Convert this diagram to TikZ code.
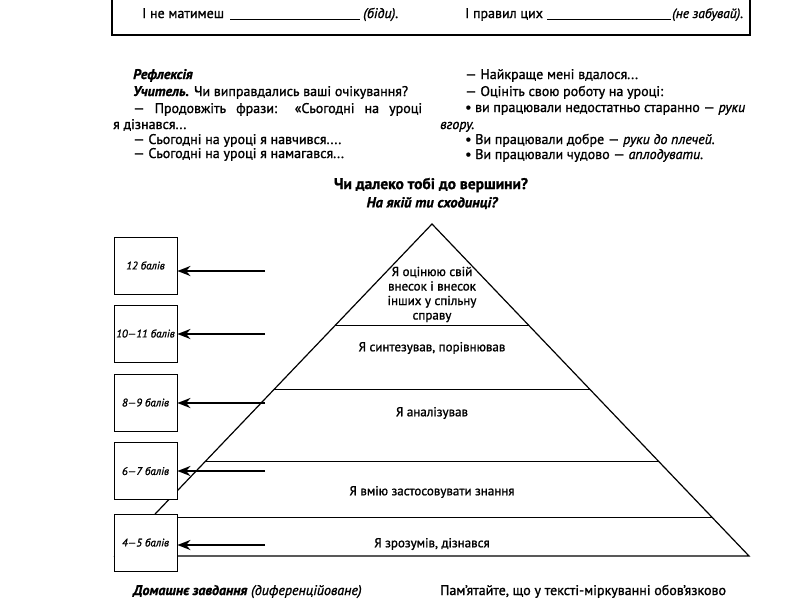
\documentclass[tikz,border=0pt]{standalone}
\usepackage{fontspec}
\setmainfont{PT Sans}[FakeBold=1.2]
\usetikzlibrary{arrows.meta,calc}
\begin{document}
\begin{tikzpicture}[x=1pt,y=-1pt,
  body/.style={anchor=base west,inner sep=0pt,font=\fontsize{14}{16}\selectfont},
  ctext/.style={anchor=center,inner sep=0pt,align=center,font=\fontsize{13}{14.5}\selectfont},
  ttl/.style={anchor=center,inner sep=0pt,font=\bfseries\fontsize{15.5}{17}\selectfont},
  subttl/.style={anchor=center,inner sep=0pt,font=\bfseries\itshape\fontsize{14.5}{17}\selectfont},
  scorebox/.style={draw,line width=0.8pt,fill=white,minimum width=63pt,minimum height=57pt,inner sep=0.5pt,font=\itshape\fontsize{11}{13}\selectfont},
  pyr/.style={line width=1.2pt},
  level/.style={line width=1pt},
  arr/.style={line width=2.4pt,-{Stealth[length=13pt,width=10pt]}},
  blank/.style={line width=0.6pt}
]
\useasboundingbox (0,0) rectangle (800,600);
\fill[white] (0,0) rectangle (800,600);
\clip (0,0) rectangle (800,600);

% top box (partly cut)
\draw[line width=1.5pt] (112,-10) -- (112,35) -- (750,35) -- (750,-10);
\node[body] (t1) at (142,18) {І не матимеш};
\coordinate (u1a) at (230,19); \coordinate (u1b) at (360,19);
\draw[blank] (u1a) -- (u1b);
\node[body] (t2) at (363,18) {\itshape (біди).};
\node[body] (t3) at (465,18) {І правил цих};
\coordinate (u2a) at (547,19); \coordinate (u2b) at (671,19);
\draw[blank] (u2a) -- (u2b);
\node[body,font=\fontsize{13.5}{16}\selectfont] (t4) at (672,18) {\itshape (не забувай).};

% reflection, left column
\node[body] (r1) at (133,79) {\textbf{\textit{Рефлексія}}};
\node[body] (r2) at (133,96) {\textbf{\textit{Учитель.}} Чи виправдались ваші очікування?};
\node[body] (r3) at (133,113) {\makebox[289pt][s]{— Продовжіть фрази: «Сьогодні на уроці}};
\node[body] (r4) at (113,129) {я дізнався...};
\node[body] (r5) at (133,144) {— Сьогодні на уроці я навчився....};
\node[body] (r6) at (133,158) {— Сьогодні на уроці я намагався...};

% right column
\node[body] (s1) at (465,79) {— Найкраще мені вдалося...};
\node[body] (s2) at (465,96) {— Оцініть свою роботу на уроці:};
\node[body] (s3) at (465,112) {\makebox[280pt][s]{• ви працювали недостатньо старанно — \textit{руки}}};
\node[body] (s4) at (440,129) {\textit{вгору.}};
\node[body] (s5) at (465,144) {• Ви працювали добре — \textit{руки до плечей.}};
\node[body] (s6) at (465,159) {• Ви працювали чудово — \textit{аплодувати.}};

% title
\node[ttl] (h1) at (431,185) {Чи далеко тобі до вершини?};
\node[subttl] (h2) at (432,203) {На якій ти сходинці?};

% pyramid
\coordinate (apex) at (432,224);
\coordinate (bl) at (115,556);
\coordinate (br) at (749,556);
\draw[pyr] (bl) -- (apex) -- (br) -- cycle;
\foreach \t in {0.3072,0.497,0.7139,0.8825}{
  \draw[level] ($(apex)!\t!(bl)$) -- ($(apex)!\t!(br)$);
}
\node[ctext] (p1) at (432,294.5) {Я оцінюю свій\\внесок і внесок\\інших у спільну\\справу};
\node[ctext] (p2) at (432,348) {Я синтезував, порівнював};
\node[ctext] (p3) at (432,413) {Я аналізував};
\node[ctext] (p4) at (432,492) {Я вмію застосовувати знання};
\node[ctext] (p5) at (432,544) {Я зрозумів, дізнався};

% score boxes
\node[scorebox] (b1) at (145.5,265.5) {12 балів};
\node[scorebox] (b2) at (145.5,333.5) {10—11 балів};
\node[scorebox] (b3) at (145.5,402.5) {8—9 балів};
\node[scorebox] (b4) at (145.5,471) {6—7 балів};
\node[scorebox] (b5) at (145.5,542.5) {4—5 балів};

% arrows
\coordinate (a1) at (265,271);
\coordinate (a2) at (265,334);
\coordinate (a3) at (265,403);
\coordinate (a4) at (265,471);
\coordinate (a5) at (265,545);
\draw[arr] (a1) -- (a1 -| b1.east);
\draw[arr] (a2) -- (a2 -| b2.east);
\draw[arr] (a3) -- (a3 -| b3.east);
\draw[arr] (a4) -- (a4 -| b4.east);
\draw[arr] (a5) -- (a5 -| b5.east);

% bottom lines
\node[body] (d1) at (133,595) {\textbf{\textit{Домашнє завдання}} \textit{(диференційоване)}};
\node[body] (d2) at (440,595) {Пам'ятайте, що у тексті-міркуванні обов'язково};
\end{tikzpicture}
\end{document}
